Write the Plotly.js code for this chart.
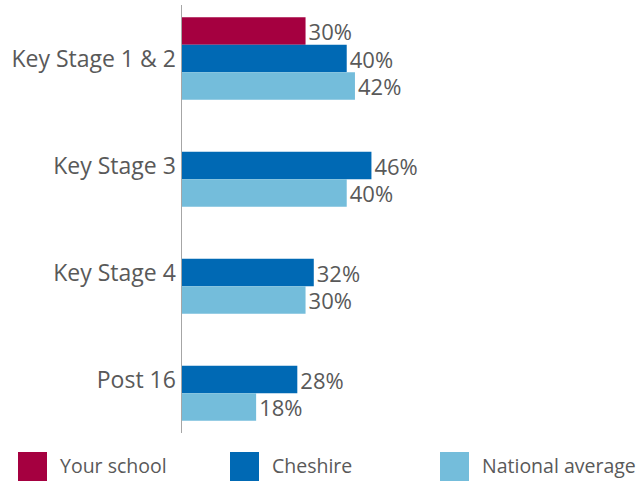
<!DOCTYPE html>
<html><head><meta charset="utf-8">
<script src="https://cdn.plot.ly/plotly-3.0.1.min.js"></script>
<style>body{margin:0;}#chart{width:640px;height:484px;}</style>
</head><body><div id="chart"></div>
<script>
const categories = ["Key Stage 1 & 2", "Key Stage 3", "Key Stage 4", "Post 16"];
const seriesNames = ["Your school", "Cheshire", "National average"];
const yourSchool = [30, null, null, null];
const cheshire = [40, 46, 32, 28];
const national = [42, 40, 30, 18];
const colors = ["#A50040", "#0069B4", "#74BDDB"];
const values = [yourSchool, cheshire, national];

const W = 640, H = 484, L = 182, R = 5, T = 5, B = 51;
const pw = W - L - R, ph = H - T - B;
const font = {family: "Open Sans, Liberation Sans, sans-serif", color: "#595959"};

const traces = values.map((v, i) => ({
  type: "bar", orientation: "h", name: seriesNames[i],
  y: categories, x: v,
  marker: {color: colors[i]},
  text: v.map(d => d == null ? "" : d + "%"),
  textposition: "outside", cliponaxis: false, constraintext: "none",
  textfont: Object.assign({size: 22}, font),
  hoverinfo: "skip", showlegend: false
}));

const legendX = [18, 230, 440];
const shapes = [], annotations = [];
seriesNames.forEach((n, i) => {
  const x0 = (legendX[i] - L) / pw, x1 = (legendX[i] + 29 - L) / pw;
  const y0 = (H - B - 481) / ph, y1 = (H - B - 452) / ph;
  shapes.push({type: "rect", xref: "paper", yref: "paper", x0, x1, y0, y1,
    fillcolor: colors[i], line: {width: 0}});
  annotations.push({xref: "paper", yref: "paper", x: (legendX[i] + 40 - L) / pw,
    y: (H - B - 466) / ph, xanchor: "left", yanchor: "middle", showarrow: false,
    text: n, font: Object.assign({size: 19.5}, font)});
});

const layout = {
  width: W, height: H,
  margin: {l: L, r: R, t: T, b: B, pad: 0},
  paper_bgcolor: "#fff", plot_bgcolor: "#fff",
  barmode: "group", bargap: 0.23, bargroupgap: 0,
  xaxis: {range: [0, 110], showgrid: false, zeroline: false, showticklabels: false, showline: false, fixedrange: true},
  yaxis: {autorange: "reversed", showline: true, linecolor: "#a6a6a6", linewidth: 1.5,
    ticks: "", showgrid: false, ticklabelstandoff: 0,
    tickfont: Object.assign({size: 23}, font)},
  shapes, annotations, showlegend: false
};
Plotly.newPlot("chart", traces, layout, {displayModeBar: false, staticPlot: true});
</script></body></html>
